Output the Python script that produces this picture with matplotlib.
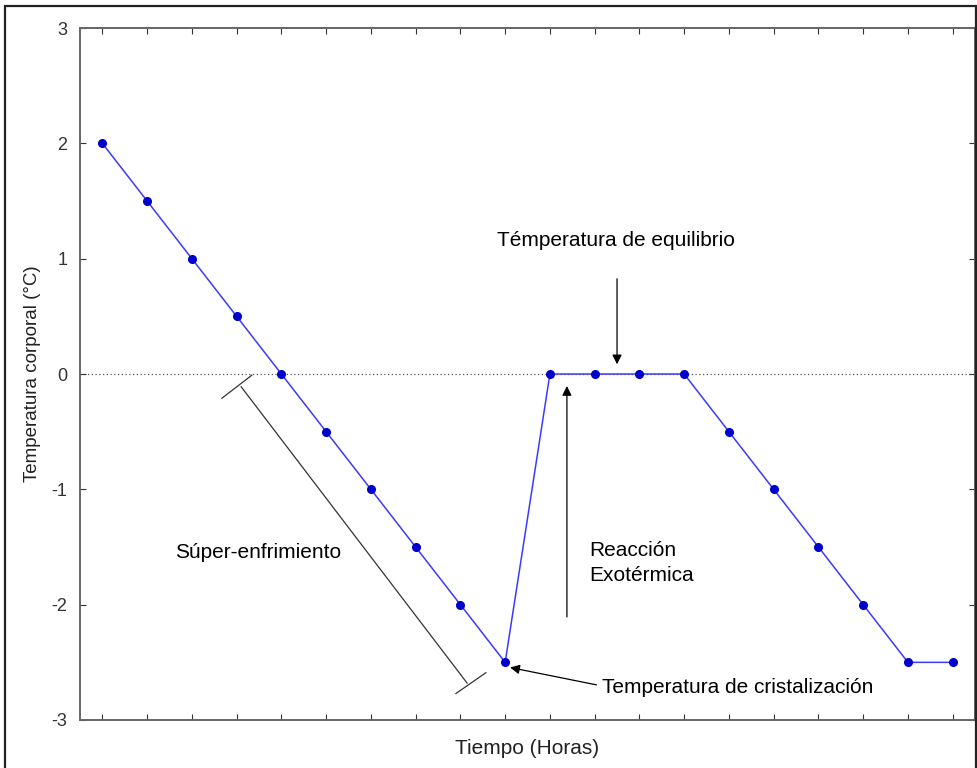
import matplotlib
matplotlib.use("Agg")
import matplotlib.pyplot as plt
from matplotlib.patches import Rectangle

plt.rcParams['font.family'] = ['Liberation Sans', 'DejaVu Sans']
plt.rcParams['axes.unicode_minus'] = False

# data
horas = list(range(20))
temperatura = [2, 1.5, 1, 0.5, 0, -0.5, -1, -1.5, -2, -2.5,
               0, 0, 0, 0, -0.5, -1, -1.5, -2, -2.5, -2.5]
y_ticks = [-3, -2, -1, 0, 1, 2, 3]

fig = plt.figure(figsize=(9.78, 7.68), dpi=100)
ax = fig.add_axes([0.0818, 0.0625, 0.9152, 0.901])

ax.axhline(0, color='#555555', lw=0.9, ls=(0, (1, 2)), zorder=1)
ax.plot(horas, temperatura, color='#3a3aff', lw=1.1, marker='o',
        markersize=5.5, markerfacecolor='#0000cc', markeredgecolor='#0000cc', zorder=3)

ax.set_xlim(-0.5, 19.5)
ax.set_ylim(-3, 3)
ax.set_xticks(horas)
ax.set_xticklabels([])
ax.set_yticks(y_ticks)
ax.tick_params(direction='in', length=4, width=0.8, top=True, right=True,
               labelsize=13, colors='#333333')
ax.tick_params(axis='y', pad=9)
for s in ax.spines.values():
    s.set_color('#666666')
    s.set_linewidth(1.4)

ax.set_xlabel('Tiempo (Horas)', fontsize=15, labelpad=10, color='#222222')
ax.set_ylabel('Temperatura corporal (°C)', fontsize=13.5, labelpad=8, color='#222222')

# annotations
fs = 15
arrow = dict(arrowstyle='-|>', color='black', lw=0.9, mutation_scale=14)
ax.text(11.48, 1.16, 'Témperatura de equilibrio', fontsize=fs, ha='center', va='center')
ax.annotate('', xy=(11.5, 0.06), xytext=(11.5, 0.85), arrowprops=arrow)

ax.text(10.88, -1.64, 'Reacción\nExotérmica', fontsize=fs, ha='left', va='center',
        linespacing=1.4)
ax.annotate('', xy=(10.38, -0.08), xytext=(10.38, -2.13), arrowprops=arrow)

ax.text(11.17, -2.72, 'Temperatura de cristalización', fontsize=fs, ha='left', va='center')
ax.annotate('', xy=(9.05, -2.54), xytext=(11.1, -2.7), arrowprops=arrow)

ax.text(3.47, -1.55, 'Súper-enfrimiento', fontsize=fs, ha='center', va='center')
ax.plot([3.1, 8.15], [-0.11, -2.68], color='#333333', lw=0.9)
ax.plot([2.67, 3.34], [-0.21, -0.01], color='#333333', lw=0.9)
ax.plot([7.9, 8.57], [-2.77, -2.59], color='#333333', lw=0.9)

fig.patches.append(Rectangle((0.005, -0.01), 0.993, 1.002, transform=fig.transFigure,
                             fill=False, edgecolor='#222222', lw=1.6))

fig.savefig('out.png', dpi=100)
